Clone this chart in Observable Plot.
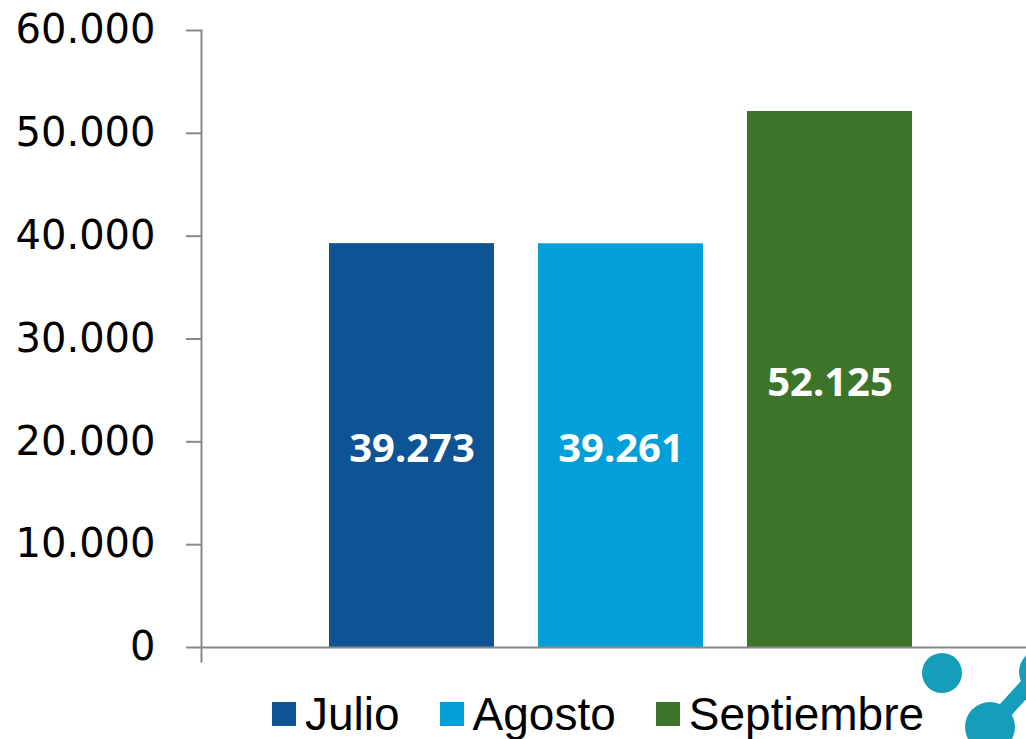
<!DOCTYPE html>
<html>
<head>
<meta charset="utf-8">
<script src="https://cdn.jsdelivr.net/npm/d3@7"></script>
<script src="https://cdn.jsdelivr.net/npm/@observablehq/plot@0.6"></script>
<style>
  html, body { margin: 0; padding: 0; background: #fff; }
  #wrap { position: relative; width: 1026px; height: 739px; overflow: hidden; }
  #legend { position: absolute; left: 272px; top: 686px; display: flex; align-items: center; font-family: "Liberation Sans", sans-serif; font-size: 46px; line-height: 56px; color: #000; white-space: nowrap; }
  .item { display: flex; align-items: center; margin-right: 40px; }
  .sw { width: 24px; height: 24px; margin-right: 9px; }
  #logo { position: absolute; left: 0; top: 0; pointer-events: none; }
</style>
</head>
<body>
<div id="wrap">
  <div id="chart"></div>
  <div id="legend"></div>
  <svg id="logo" width="1026" height="739">
    <g fill="#169DB9">
      <circle cx="942" cy="673" r="20"></circle>
      <circle cx="990" cy="727" r="25"></circle>
      <circle cx="1042" cy="672" r="23"></circle>
      <line x1="990" y1="727" x2="1040" y2="672" stroke="#169DB9" stroke-width="16"></line>
    </g>
  </svg>
</div>
<script>
const months = ["Julio", "Agosto", "Septiembre"];
const values = [39273, 39261, 52125];
const colors = ["#0E5494", "#039FD9", "#3C7429"];
const yTicks = [0, 10000, 20000, 30000, 40000, 50000, 60000];

const data = months.map((m, i) => ({month: m, value: values[i]}));
const loc = d3.formatLocale({decimal: ",", thousands: ".", grouping: [3], currency: ["", "€"]});
const fmt = loc.format(",d");

const chart = Plot.plot({
  width: 1026,
  height: 670,
  marginLeft: 201,
  marginRight: 0,
  marginTop: 30,
  marginBottom: 23,
  style: {background: "transparent", overflow: "visible"},
  x: {domain: months, range: [284, 956.5], paddingInner: 0.21, paddingOuter: 0.21, axis: null},
  y: {domain: [0, 60000], axis: null},
  color: {domain: months, range: colors},
  marks: [
    Plot.barY(data, {x: "month", y: "value", fill: "month"}),
    Plot.text(data, {x: "month", y: d => d.value / 2, text: d => fmt(d.value), fill: "white",
      fontSize: 40, fontWeight: "bold", fontFamily: "Noto Sans", dy: 4}),
    Plot.ruleY([0], {stroke: "#898989", strokeWidth: 2}),
    Plot.frame({anchor: "left", stroke: "#898989", strokeWidth: 2, insetBottom: -14}),
    Plot.axisY({ticks: yTicks, tickFormat: fmt, tickSize: 15, tickPadding: 31, stroke: "#898989",
      strokeWidth: 2, fontSize: 40, fontFamily: "DejaVu Sans", fill: "#000", label: null})
  ]
});
document.getElementById("chart").appendChild(chart);

const legend = document.getElementById("legend");
months.forEach((m, i) => {
  const it = document.createElement("div");
  it.className = "item";
  const sw = document.createElement("div");
  sw.className = "sw";
  sw.style.background = colors[i];
  const t = document.createElement("span");
  t.textContent = m;
  it.appendChild(sw); it.appendChild(t);
  legend.appendChild(it);
});
</script>
</body>
</html>
